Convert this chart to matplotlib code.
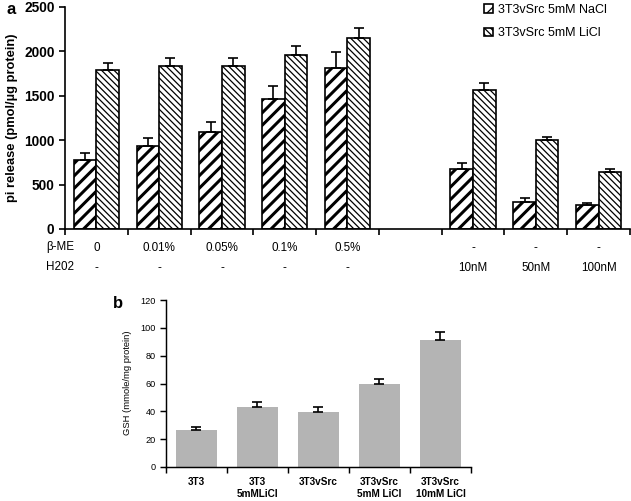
import numpy as np
import matplotlib
matplotlib.use('Agg')
import matplotlib.pyplot as plt

plt.rcParams['font.family'] = ['Liberation Sans', 'DejaVu Sans']

# Panel a data
groups_a = [0, 1, 2, 3, 4, 6, 7, 8]   # slot 5 is an empty gap
beta_me = ['0', '0.01%', '0.05%', '0.1%', '0.5%', '-', '-', '-']
h2o2 = ['-', '-', '-', '-', '-', '10nM', '50nM', '100nM']
nacl = [775, 935, 1090, 1462, 1810, 676, 304, 270]
nacl_err = [80, 90, 112, 147, 182, 67, 44, 23]
licl = [1788, 1835, 1835, 1958, 2150, 1563, 1000, 642]
licl_err = [80, 90, 90, 102, 112, 80, 38, 34]
series_a = ['3T3vSrc 5mM NaCl', '3T3vSrc 5mM LiCl']

# Panel b data
cells_b = ['3T3', '3T3\n5mMLiCl', '3T3vSrc', '3T3vSrc\n5mM LiCl', '3T3vSrc\n10mM LiCl']
gsh = [26.6, 43.0, 39.6, 59.3, 91.3]
gsh_err = [2.0, 3.5, 3.2, 4.0, 5.5]

DPI = 150
fig = plt.figure(figsize=(632 / DPI, 501 / DPI), dpi=DPI)

# ---- panel a ----
ax = fig.add_axes([65 / 632, 1 - 229 / 501, 565 / 632, 222 / 501])
x = np.array(groups_a, dtype=float)
w = 0.36

plt.rcParams['hatch.linewidth'] = 1.45
b1 = ax.bar(x - w / 2, nacl, w, color='white', edgecolor='black', linewidth=0.8,
            hatch='////', label=series_a[0])
plt.rcParams['hatch.linewidth'] = 0.6
b2 = ax.bar(x + w / 2, licl, w, color='white', edgecolor='black', linewidth=0.8,
            hatch='\\' * 8, label=series_a[1])

ax.errorbar(x - w / 2, nacl, yerr=[np.zeros(len(nacl)), nacl_err], fmt='none',
            ecolor='black', elinewidth=0.8, capsize=2.6, capthick=0.8)
ax.errorbar(x + w / 2, licl, yerr=[np.zeros(len(licl)), licl_err], fmt='none',
            ecolor='black', elinewidth=0.8, capsize=2.6, capthick=0.8)

ax.set_xlim(-0.5, 8.5)
ax.set_ylim(0, 2500)
ax.set_yticks(range(0, 2501, 500))
ax.set_xticks(np.arange(-0.5, 9, 1))
ax.set_xticklabels([])
ax.tick_params(direction='out', length=3, width=0.8, labelsize=6.6, pad=2)
for t in ax.get_yticklabels():
    t.set_fontweight('bold')
ax.spines['top'].set_visible(False)
ax.spines['right'].set_visible(False)
ax.spines['left'].set_linewidth(0.8)
ax.spines['bottom'].set_linewidth(0.8)

# condition rows under the axis
for xi, lab in zip(x, beta_me):
    ax.text(xi, -0.085, lab, transform=ax.get_xaxis_transform(),
            ha='center', va='center', fontsize=5.6)
for xi, lab in zip(x, h2o2):
    ax.text(xi, -0.175, lab, transform=ax.get_xaxis_transform(),
            ha='center', va='center', fontsize=5.6)
fig.text(46 / 632, 1 - 247 / 501, 'β-ME', ha='left', va='center', fontsize=5.6)
fig.text(46 / 632, 1 - 267 / 501, 'H202', ha='left', va='center', fontsize=5.6)

fig.text(12 / 632, 1 - 118 / 501, 'pi release (pmol/µg protein)', rotation=90,
         ha='center', va='center', fontsize=6.2, fontweight='bold')
fig.text(7 / 632, 1 - 9 / 501, 'a', ha='left', va='center', fontsize=8,
         fontweight='bold')

ax.legend(loc='upper left', bbox_to_anchor=(478 / 632, 1.004),
          bbox_transform=fig.transFigure, frameon=False, fontsize=6.0,
          handlelength=0.7, handleheight=0.7, handletextpad=0.4,
          labelspacing=0.9, borderaxespad=0.1)

# ---- panel b ----
bx = fig.add_axes([166 / 632, 1 - 467 / 501, 305 / 632, 167 / 501])
xb = np.arange(len(cells_b))
bx.bar(xb, gsh, 0.66, color='#b4b4b4', edgecolor='none')
bx.errorbar(xb, gsh, yerr=[np.zeros(len(gsh)), gsh_err], fmt='none',
            ecolor='black', elinewidth=0.8, capsize=2.4, capthick=0.8)
bx.set_xlim(-0.5, len(cells_b) - 0.5)
bx.set_ylim(0, 120)
bx.set_yticks(range(0, 121, 20))
bx.set_xticks(np.arange(-0.5, len(cells_b), 1))
bx.set_xticklabels([])
bx.tick_params(direction='out', length=3, width=0.7, labelsize=4.4, pad=2)
bx.spines['top'].set_visible(False)
bx.spines['right'].set_visible(False)
bx.spines['left'].set_linewidth(0.7)
bx.spines['bottom'].set_linewidth(0.7)
for xi, lab in zip(xb, cells_b):
    bx.text(xi, -0.06, lab, transform=bx.get_xaxis_transform(), ha='center',
            va='top', fontsize=4.8, fontweight='bold', linespacing=1.3)

fig.text(128 / 632, 1 - 383 / 501, 'GSH (mmole/mg protein)', rotation=90,
         ha='center', va='center', fontsize=4.5)
fig.text(118 / 632, 1 - 303 / 501, 'b', ha='center', va='center', fontsize=8,
         fontweight='bold')

plt.savefig('out.png', dpi=DPI)
